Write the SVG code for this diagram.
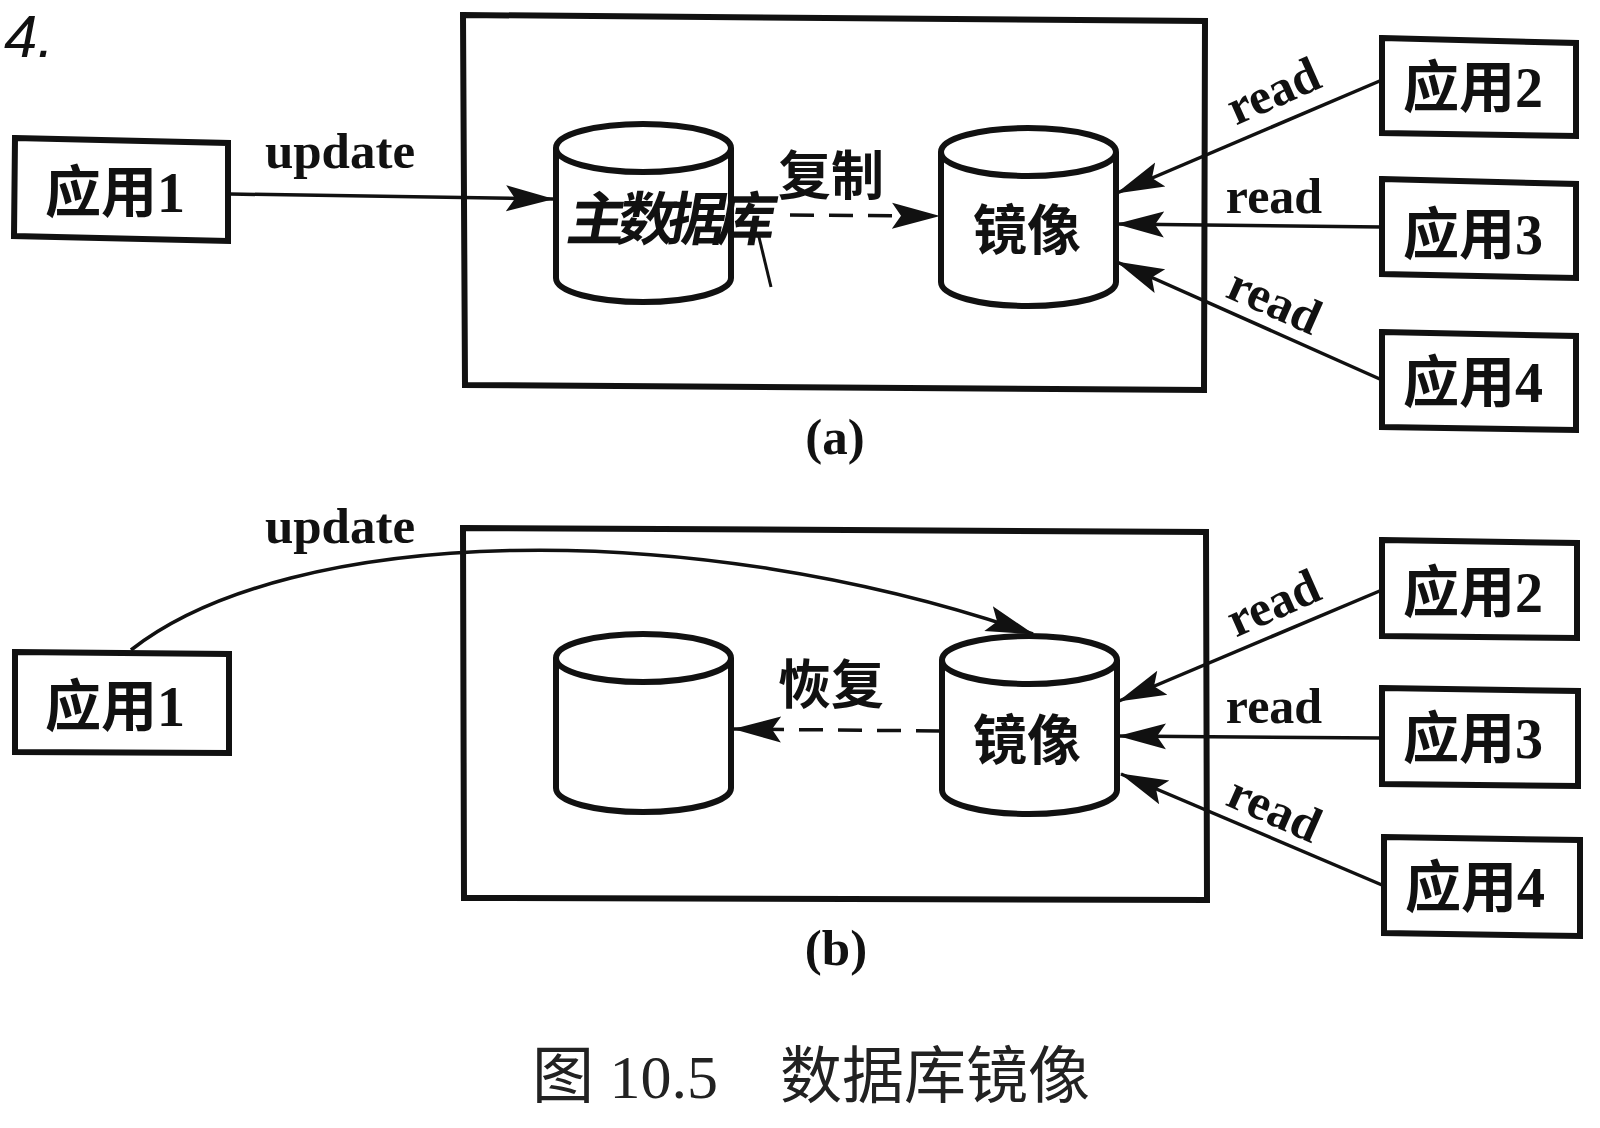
<svg xmlns="http://www.w3.org/2000/svg" width="1600" height="1128" viewBox="0 0 1600 1128">
<style>
.frame{fill:none;stroke:#111;stroke-width:6}
.box{fill:#fff;stroke:#111;stroke-width:6}
.cyl{fill:#fff;stroke:#111;stroke-width:6}
.line{fill:none;stroke:#111;stroke-width:3.5;marker-end:url(#head)}
.dash{stroke-dasharray:24 15}
text{fill:#111;font-family:"Liberation Serif","Noto Sans CJK SC",serif;font-weight:bold;text-anchor:middle}
.app{font-size:56px}
.en{font-size:51px}
.rd{font-size:50px}
.cn{font-size:53px}
.hand{font-family:"Noto Sans CJK SC",sans-serif;font-size:58px;letter-spacing:-8px}
.note{font-family:"Liberation Sans",sans-serif;font-style:italic;font-weight:normal;font-size:60px;text-anchor:start}
.cap{font-family:"Liberation Serif","Noto Sans CJK SC",serif;font-weight:normal;font-size:62px;fill:#222;text-anchor:start}
</style>
<defs>
<marker id="head" markerUnits="userSpaceOnUse" markerWidth="48" markerHeight="28" refX="47" refY="14" orient="auto" viewBox="0 0 48 28"><path d="M0,1 L48,14 L0,27 L9,14 Z" fill="#111"/></marker>
<g id="cylshape"><path class="cyl" d="M0,24 V154 C0,168 40,178 87,178 C134,178 175,168 175,154 V24 C175,10 134,0 87,0 C40,0 0,10 0,24 Z"/><path class="cyl" fill="none" d="M0,24 C0,38 40,48 87,48 C134,48 175,38 175,24"/></g>
</defs>
<rect width="1600" height="1128" fill="#fff"/>
<text id="note" class="note" x="4" y="57">4.</text>
<g id="frame-a"><polygon class="frame" points="463,15 1205,21 1204,390 465,385"/></g>
<g id="frame-b"><polygon class="frame" points="463,528 1206,532 1207,900 464,898"/></g>
<g id="connectors">
<path class="line" d="M230,194 L553,199"/>
<path class="line dash" d="M790,215 L939,216"/>
<path class="line" d="M1382,80 L1117,193"/>
<path class="line" d="M1382,227 L1117,224"/>
<path class="line" d="M1382,380 L1117,262"/>
<path class="line" d="M131,650 C290,525 690,515 1033,634"/>
<path class="line dash" d="M940,731 L734,729"/>
<path class="line" d="M1382,590 L1119,701"/>
<path class="line" d="M1382,738 L1119,736"/>
<path class="line" d="M1382,885 L1121,774"/>
</g>
<g id="cyl-main-a"><use href="#cylshape" transform="translate(556,124)"/>
<g transform="translate(665,240) skewX(-10)"><text class="hand" x="0" y="0">主数据库</text></g>
<path d="M758,233 L771,287" stroke="#111" stroke-width="3" fill="none"/></g>
<g id="cyl-mirror-a"><use href="#cylshape" transform="translate(941,128)"/><text class="cn" x="1027" y="250" style="font-size:54px">镜像</text></g>
<g id="cyl-main-b"><use href="#cylshape" transform="translate(556,634)"/></g>
<g id="cyl-mirror-b"><use href="#cylshape" transform="translate(942,636)"/><text class="cn" x="1027" y="760" style="font-size:54px">镜像</text></g>
<g id="app1-a"><polygon class="box" points="15,138 228,143 228,241 14,236"/><text class="app" x="115" y="212">应用1</text></g>
<g id="app2-a"><polygon class="box" points="1382,38 1576,43 1576,136 1382,133"/><text class="app" x="1473" y="107">应用2</text></g>
<g id="app3-a"><polygon class="box" points="1382,179 1576,184 1576,278 1382,274"/><text class="app" x="1473" y="254">应用3</text></g>
<g id="app4-a"><polygon class="box" points="1382,332 1576,336 1576,430 1382,427"/><text class="app" x="1473" y="402">应用4</text></g>
<g id="app1-b"><polygon class="box" points="15,652 229,654 229,753 15,752"/><text class="app" x="115" y="726">应用1</text></g>
<g id="app2-b"><polygon class="box" points="1382,540 1577,543 1577,638 1382,636"/><text class="app" x="1473" y="612">应用2</text></g>
<g id="app3-b"><polygon class="box" points="1382,688 1578,691 1578,786 1382,784"/><text class="app" x="1473" y="758">应用3</text></g>
<g id="app4-b"><polygon class="box" points="1384,837 1580,840 1580,936 1384,933"/><text class="app" x="1475" y="907">应用4</text></g>
<g id="labels">
<text class="en" x="340" y="168">update</text>
<text class="en" x="340" y="543">update</text>
<text class="cn" x="831" y="195">复制</text>
<text class="cn" x="831" y="704">恢复</text>
<text class="rd" transform="translate(1280,106) rotate(-24)">read</text>
<text class="rd" x="1274" y="213">read</text>
<text class="rd" transform="translate(1268,316) rotate(24)">read</text>
<text class="rd" transform="translate(1280,618) rotate(-24)">read</text>
<text class="rd" x="1274" y="723">read</text>
<text class="rd" transform="translate(1268,824) rotate(24)">read</text>
<text class="en" x="835" y="454">(a)</text>
<text class="en" x="836" y="965">(b)</text>
<text class="cap" x="532" y="1098" xml:space="preserve">图 10.5　数据库镜像</text>
</g>
</svg>
